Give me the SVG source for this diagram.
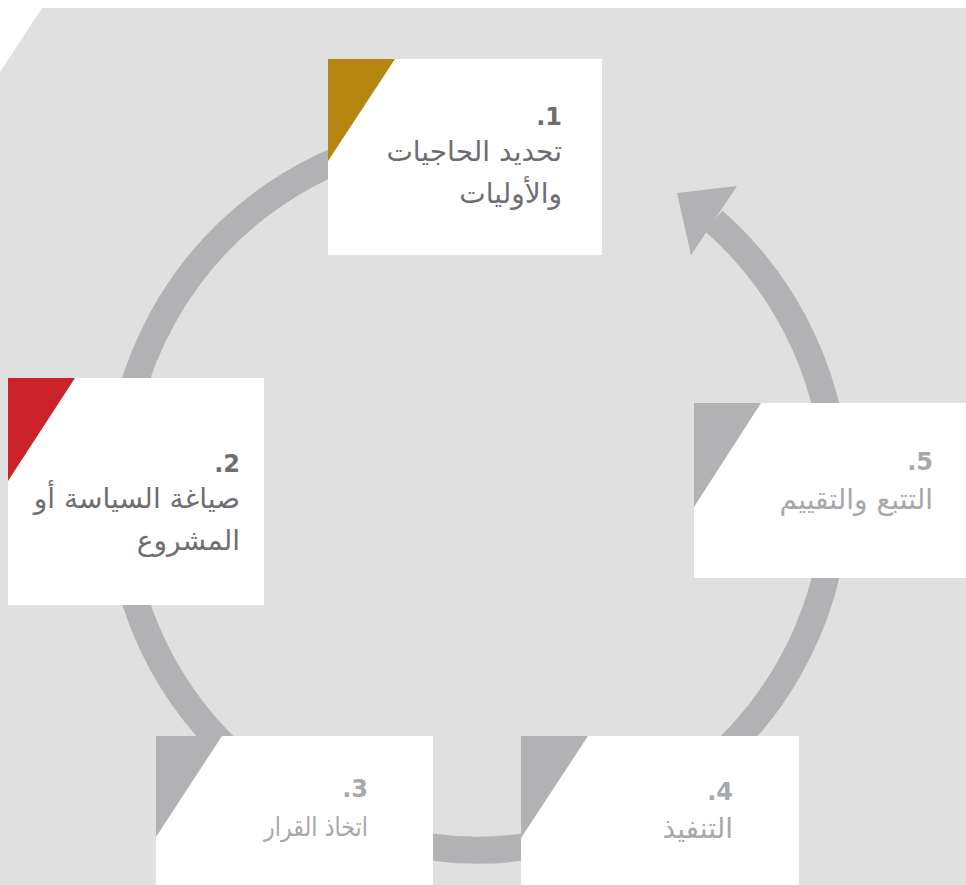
<svg xmlns="http://www.w3.org/2000/svg" width="966" height="885" viewBox="0 0 966 885">
<style>
.bg{fill:#e0e0e0}
.box{fill:#ffffff}
.ring{fill:none;stroke:#b2b1b3;stroke-width:27}
.head{fill:#b2b1b3}
.num{font-family:"DejaVu Sans",sans-serif;font-weight:bold;font-size:24px;text-anchor:end}
.lbl{font-family:"DejaVu Sans",sans-serif;font-size:28px;text-anchor:end}
.dark{fill:#6d6e71}
.light{fill:#a7a8ab}
.tri-gray{fill:#b2b1b3}
</style>
<polygon class="bg" points="42,8 966,8 966,885 0,885 0,72"/>
<g id="connectors">
<path class="ring" d="M713.5,220.9 A359,359 0 1 1 414.7,137.5"/>
<polygon class="head" points="677,193 737,186 691,255"/>
</g>
<g id="node1">
<rect class="box" x="328" y="59" width="274" height="196"/>
<polygon fill="#b5860e" points="328,59 395,59 328,161"/>
<text class="num dark" x="562" y="125">.1</text>
<text class="lbl dark" x="562" y="161">تحديد الحاجيات</text>
<text class="lbl dark" x="562" y="203">والأوليات</text>
</g>
<g id="node2">
<rect class="box" x="8" y="378" width="256" height="227"/>
<polygon fill="#cc2229" points="8,378 75,378 8,481"/>
<text class="num dark" x="240" y="472">.2</text>
<text class="lbl dark" x="240" y="508">صياغة السياسة أو</text>
<text class="lbl dark" x="240" y="550">المشروع</text>
</g>
<g id="node3">
<rect class="box" x="156" y="736" width="277" height="149"/>
<polygon class="tri-gray" points="156,736 222,736 156,837"/>
<text class="num light" x="368" y="797">.3</text>
<text class="lbl light" x="368" y="836" style="font-size:26px" textLength="104" lengthAdjust="spacingAndGlyphs">اتخاذ القرار</text>
</g>
<g id="node4">
<rect class="box" x="521" y="736" width="278" height="149"/>
<polygon class="tri-gray" points="521,736 588,736 521,838"/>
<text class="num light" x="733" y="800">.4</text>
<text class="lbl light" x="733" y="838">التنفيذ</text>
</g>
<g id="node5">
<rect class="box" x="694" y="403" width="272" height="175"/>
<polygon class="tri-gray" points="694,403 761,403 694,507"/>
<text class="num light" x="933" y="470">.5</text>
<text class="lbl light" x="933" y="509">التتبع والتقييم</text>
</g>
</svg>
